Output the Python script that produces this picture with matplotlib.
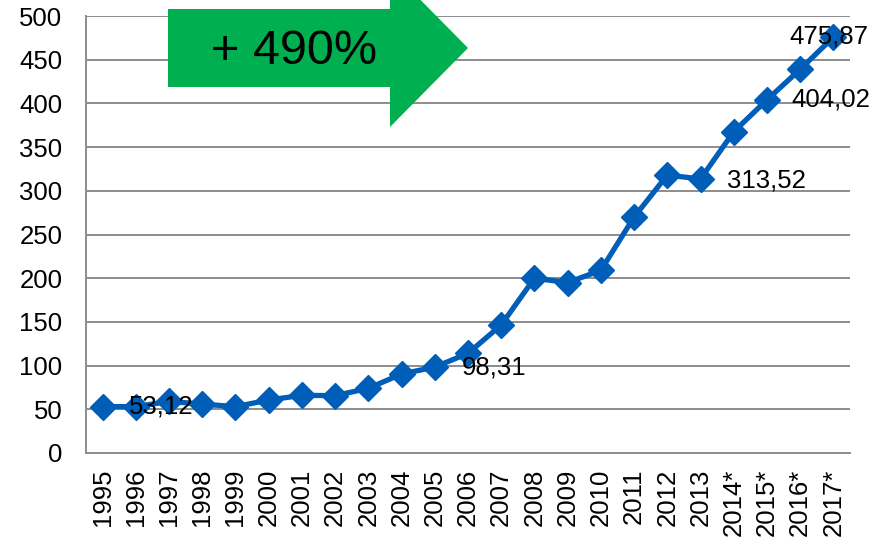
import matplotlib.pyplot as plt
from matplotlib.patches import Polygon

plt.rcParams['font.family'] = ['Liberation Sans', 'DejaVu Sans']

# Data
years = ["1995", "1996", "1997", "1998", "1999", "2000", "2001", "2002", "2003",
         "2004", "2005", "2006", "2007", "2008", "2009", "2010", "2011", "2012",
         "2013", "2014*", "2015*", "2016*", "2017*"]
values = [53.12, 53, 59, 56, 53, 60.6, 66, 65.6, 74, 90.4, 98.31, 114, 146.5,
          200, 195, 209, 270, 318, 313.52, 367.6, 404.02, 439, 475.87]
# labelled points: (index, text, x offset px, y offset px)
labels = [(0, "53,12", 26, 0), (10, "98,31", 27, 0), (18, "313,52", 26, -2),
          (20, "404,02", 24, 0), (22, "475,87", -44, 1)]
yticks = [0, 50, 100, 150, 200, 250, 300, 350, 400, 450, 500]

W, H = 887, 540
fig = plt.figure(figsize=(W / 100, H / 100), dpi=100)
ax = fig.add_axes([86 / W, 1 - 453 / H, 764 / W, 437 / H])

grey = "#8c8c8c"
blue = "#005eb8"

x = list(range(len(years)))
ax.plot(x, values, color=blue, linewidth=3.8, marker="D", markersize=13,
        markeredgecolor=blue, markerfacecolor=blue, zorder=3, clip_on=False)

for i, txt, dx, dy in labels:
    ax.annotate(txt, (x[i], values[i]), xytext=(dx * 0.72, dy * 0.72),
                textcoords="offset points", ha="left", va="center",
                fontsize=18.5, color="black", zorder=4)

ax.set_xlim(-0.5, len(years) - 0.5)
ax.set_ylim(0, 500)
ax.set_yticks(yticks)
ax.set_xticks(x)
ax.set_xticklabels(years, rotation=90, fontsize=18.5)
ax.tick_params(axis="y", labelsize=18.5, length=0, pad=17)
ax.tick_params(axis="x", length=0, pad=11)
ax.grid(axis="y", color=grey, linewidth=1.4)
ax.set_axisbelow(True)
for s in ["top", "right"]:
    ax.spines[s].set_visible(False)
for s in ["left", "bottom"]:
    ax.spines[s].set_color(grey)
    ax.spines[s].set_linewidth(1.4)

# green arrow in pixel coords (y from top)
pts = [(168, 9), (390, 9), (390, -31), (468, 48), (390, 127), (390, 87), (168, 87)]
arrow = Polygon([(px / W, 1 - py / H) for px, py in pts], closed=True,
                transform=fig.transFigure, facecolor="#00b050", edgecolor="none",
                zorder=5)
fig.patches.append(arrow)
fig.text(294 / W, 1 - 52 / H, "+ 490%", fontsize=35, ha="center", va="center",
         color="black", zorder=6)

fig.savefig("out.png", dpi=100)
